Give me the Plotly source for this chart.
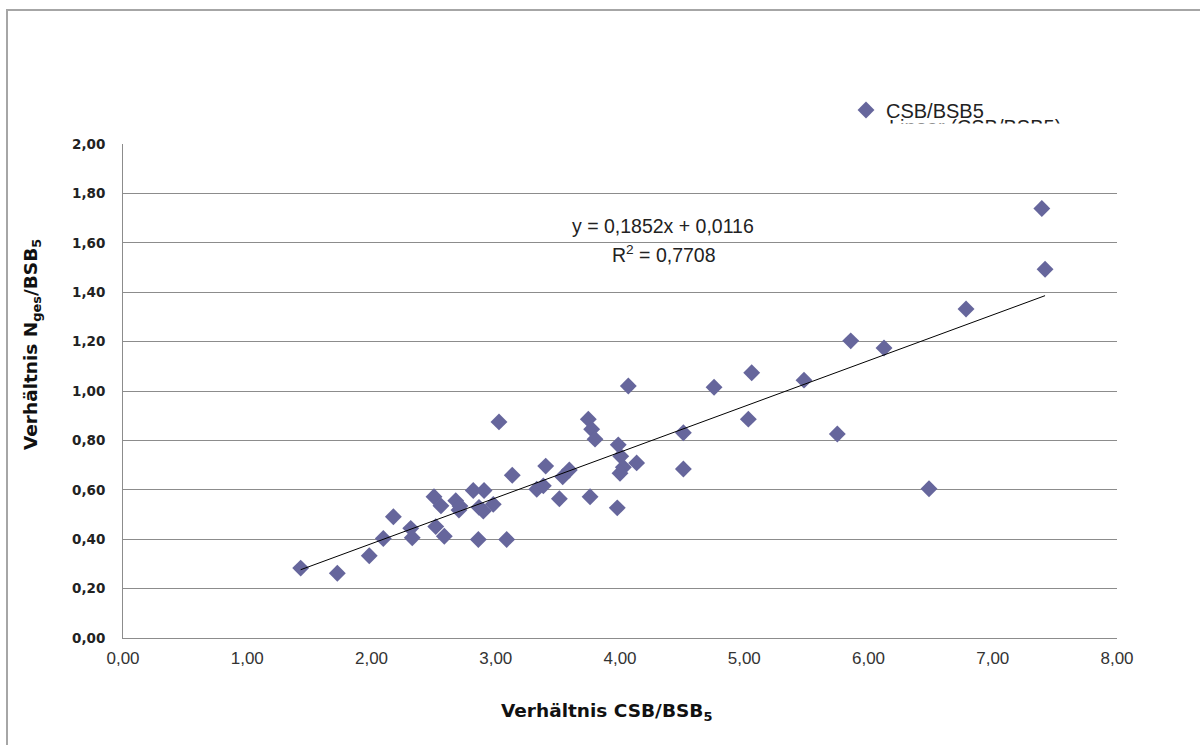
import plotly.graph_objects as go

# Data
csb_bsb5 = [1.430, 1.725, 1.982, 2.095, 2.176, 2.316, 2.328, 2.503, 2.517, 2.559,
            2.586, 2.678, 2.712, 2.704, 2.819, 2.860, 2.865, 2.906, 2.900, 2.980,
            3.026, 3.088, 3.133, 3.330, 3.383, 3.402, 3.512, 3.539, 3.592, 3.745,
            3.772, 3.799, 3.759, 4.067, 4.757, 4.510, 5.033, 3.986, 4.006, 4.027,
            4.000, 4.134, 4.510, 3.978, 5.060, 5.481, 5.749, 5.857, 6.125, 6.487,
            6.785, 7.395, 7.421]
nges_bsb5 = [0.283, 0.262, 0.333, 0.403, 0.491, 0.444, 0.406, 0.572, 0.451, 0.535,
             0.412, 0.556, 0.534, 0.518, 0.597, 0.399, 0.529, 0.597, 0.514, 0.541,
             0.875, 0.399, 0.659, 0.602, 0.616, 0.696, 0.564, 0.653, 0.680, 0.886,
             0.845, 0.805, 0.572, 1.020, 1.015, 0.831, 0.886, 0.782, 0.736, 0.691,
             0.667, 0.709, 0.684, 0.527, 1.074, 1.044, 0.826, 1.203, 1.174, 0.604,
             1.332, 1.739, 1.493]

slope = 0.1852
intercept = 0.0116
r_squared = "0,7708"
series_name = "CSB/BSB5"
trend_name = "Linear (CSB/BSB5)"

x_ticks = [0, 1, 2, 3, 4, 5, 6, 7, 8]
x_tick_labels = ["0,00", "1,00", "2,00", "3,00", "4,00", "5,00", "6,00", "7,00", "8,00"]
y_ticks = [0, 0.2, 0.4, 0.6, 0.8, 1.0, 1.2, 1.4, 1.6, 1.8, 2.0]
y_tick_labels = ["0,00", "0,20", "0,40", "0,60", "0,80", "1,00", "1,20", "1,40", "1,60", "1,80", "2,00"]

x_line = [min(csb_bsb5), max(csb_bsb5)]
y_line = [slope * v + intercept for v in x_line]

fig = go.Figure()
fig.add_trace(go.Scatter(
    x=csb_bsb5, y=nges_bsb5, mode="markers", name=series_name,
    marker=dict(symbol="diamond", size=13, color="#66669c", line=dict(width=0)),
))
fig.add_trace(go.Scatter(
    x=x_line, y=y_line, mode="lines", name=trend_name,
    line=dict(color="black", width=1), showlegend=False,
))

L, R, T, B = 123, 83, 144, 107
W, H = 1200, 745
pw, ph = W - L - R, H - T - B

def px_x(p):
    return (p - L) / pw

def px_y(p):
    return (H - B - p) / ph

fig.update_layout(
    width=W, height=H,
    margin=dict(l=L, r=R, t=T, b=B),
    paper_bgcolor="white", plot_bgcolor="white",
    font=dict(family="Liberation Sans, Arial, sans-serif", color="#222"),
    showlegend=True,
    legend=dict(x=px_x(846), y=px_y(110), xanchor="left", yanchor="middle",
                bgcolor="rgba(0,0,0,0)", font=dict(size=20, color="#222"),
                itemwidth=30),
    xaxis=dict(range=[0, 8], tickvals=x_ticks, ticktext=x_tick_labels,
               showgrid=False, zeroline=False, showline=True, linecolor="#8c8c8c",
               linewidth=1, ticks="outside", ticklen=5, tickcolor="rgba(0,0,0,0)",
               tickfont=dict(size=17, color="#333", family="Liberation Sans, Arial, sans-serif")),
    yaxis=dict(range=[0, 2.0], tickvals=y_ticks, ticktext=y_tick_labels,
               showgrid=True, gridcolor="#8c8c8c", gridwidth=1,
               zeroline=False, showline=True, linecolor="#8c8c8c", linewidth=1,
               ticks="outside", ticklen=14, tickcolor="rgba(0,0,0,0)",
               tickfont=dict(size=13.5, color="#222", family="DejaVu Sans, sans-serif",
                             weight="bold")),
    shapes=[dict(type="rect", xref="paper", yref="paper",
                 x0=px_x(7), x1=px_x(1300), y0=px_y(900), y1=px_y(10),
                 line=dict(color="#a6a6a6", width=2), fillcolor="rgba(0,0,0,0)")],
    annotations=[
        # clipped second legend entry (only its top edge is visible in the reference)
        dict(x=px_x(887), y=px_y(127), xref="paper", yref="paper", showarrow=False,
             xanchor="left", yanchor="middle",
             text=trend_name, font=dict(size=20, color="#222")),
        dict(x=px_x(880), y=px_y(123), xref="paper", yref="paper", showarrow=False,
             xanchor="left", yanchor="top", text=" ", width=200, height=16,
             bgcolor="white", borderpad=0, font=dict(size=10)),
        dict(x=px_x(663), y=px_y(226), xref="paper", yref="paper", showarrow=False,
             xanchor="center", yanchor="middle",
             text="y = 0,1852x + 0,0116", font=dict(size=19.5, color="#222")),
        dict(x=px_x(664), y=px_y(254), xref="paper", yref="paper", showarrow=False,
             xanchor="center", yanchor="middle",
             text="R<sup>2</sup> = " + r_squared, font=dict(size=19.5, color="#222")),
        dict(x=px_x(606), y=px_y(712), xref="paper", yref="paper", showarrow=False,
             xanchor="center", yanchor="middle",
             text="<b>Verhältnis CSB/BSB<sub>5</sub></b>",
             font=dict(size=18.5, color="#111", family="DejaVu Sans, sans-serif")),
        dict(x=px_x(32), y=px_y(345), xref="paper", yref="paper", showarrow=False,
             xanchor="center", yanchor="middle",
             textangle=-90,
             text="<b>Verhältnis N<sub>ges</sub>/BSB<sub>5</sub></b>",
             font=dict(size=18.5, color="#111", family="DejaVu Sans, sans-serif")),
    ],
)

fig.write_html("out.html")
